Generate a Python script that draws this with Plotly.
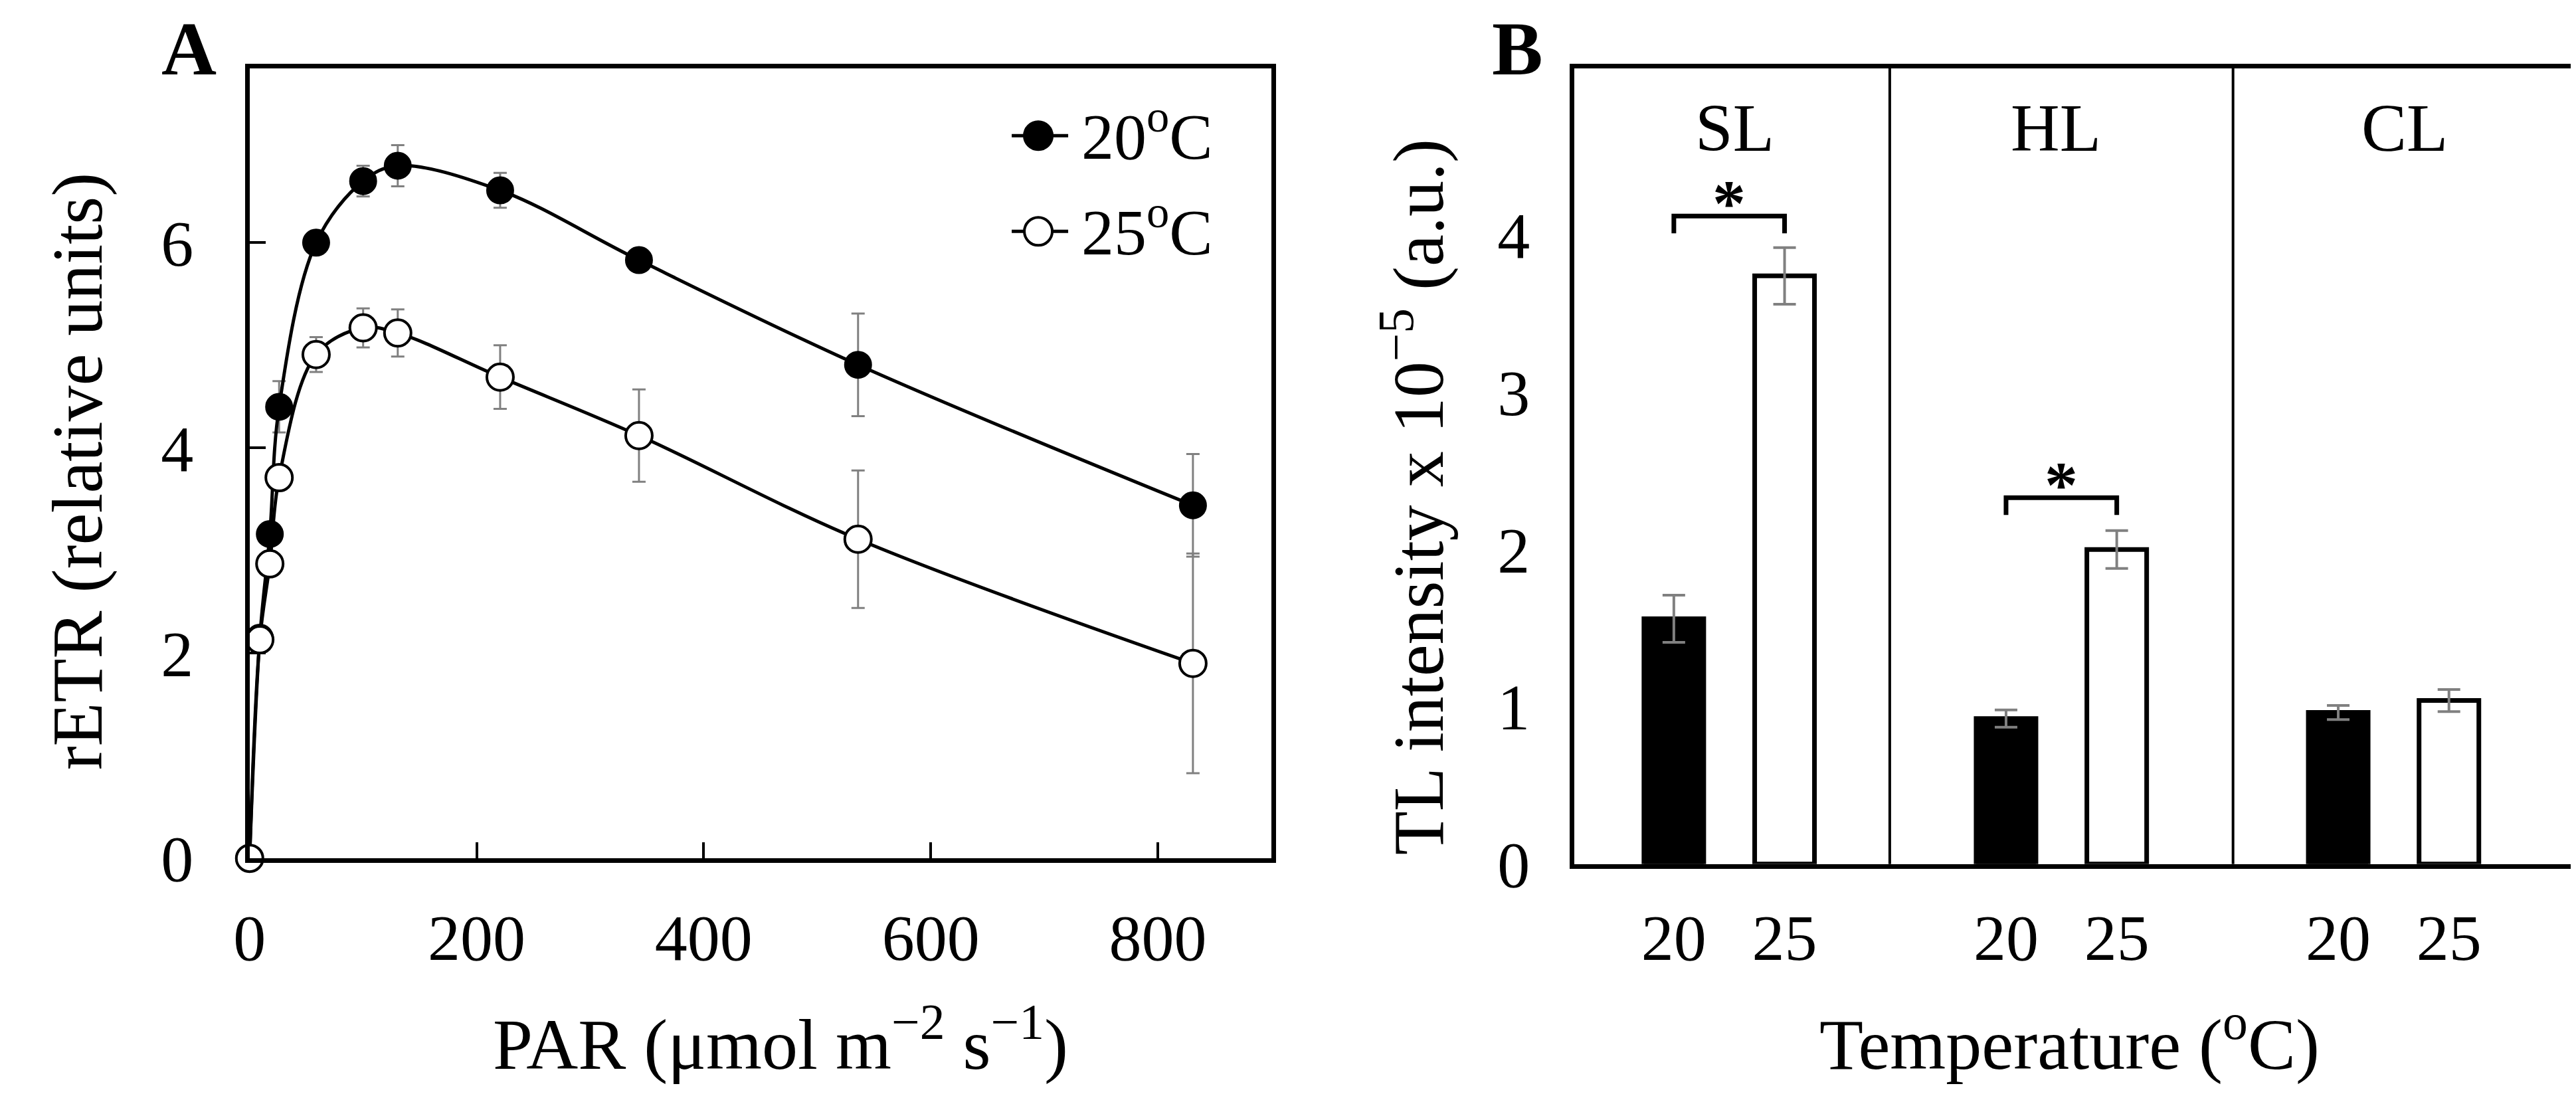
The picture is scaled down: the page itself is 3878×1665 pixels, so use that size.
import plotly.graph_objects as go

# Panel A: rapid light curves (rETR vs PAR)
par = [0, 9, 17.8, 26, 58.6, 100, 130.5, 220.7, 343, 536, 831]
etr_20 = [0, 2.15, 3.16, 4.40, 6.00, 6.60, 6.75, 6.51, 5.83, 4.81, 3.44]
etr_20_err = [0, 0.05, 0.1, 0.25, 0.05, 0.15, 0.2, 0.17, 0.06, 0.5, 0.5]
etr_25 = [0, 2.13, 2.87, 3.71, 4.91, 5.17, 5.12, 4.69, 4.12, 3.11, 1.90]
etr_25_err = [0, 0.05, 0.05, 0.1, 0.17, 0.19, 0.23, 0.31, 0.45, 0.67, 1.07]

# Panel B: TL intensity per light condition
groups = ["SL", "HL", "CL"]
temps = ["20", "25"]
tl_20 = [1.56, 0.925, 0.964]
tl_20_err = [0.15, 0.055, 0.045]
tl_25 = [3.74, 2.00, 1.04]
tl_25_err = [0.18, 0.12, 0.07]
sig_groups = ["SL", "HL"]
sig_level = [4.12, 2.33]

FONT = "Liberation Serif"
W, H = 3878, 1665

# bar positions: two bars per group, one empty slot between groups
x20 = [3 * i + 1 for i in range(len(groups))]
x25 = [3 * i + 2 for i in range(len(groups))]

fig = go.Figure()

fig.add_trace(go.Scatter(
    x=par, y=etr_20, mode="lines+markers", xaxis="x", yaxis="y",
    line=dict(color="black", width=5, shape="spline", smoothing=1),
    marker=dict(color="black", size=40, line=dict(color="black", width=2)),
    error_y=dict(type="data", array=etr_20_err, color="#808080", thickness=3, width=10),
    cliponaxis=False, showlegend=False,
))
fig.add_trace(go.Scatter(
    x=par, y=etr_25, mode="lines+markers", xaxis="x", yaxis="y",
    line=dict(color="black", width=5, shape="spline", smoothing=1),
    marker=dict(color="white", size=40, line=dict(color="black", width=4)),
    error_y=dict(type="data", array=etr_25_err, color="#808080", thickness=3, width=10),
    cliponaxis=False, showlegend=False,
))

fig.add_trace(go.Bar(
    x=x20, y=tl_20, width=0.54, xaxis="x2", yaxis="y2",
    marker=dict(color="black", line=dict(color="black", width=7)),
    error_y=dict(type="data", array=tl_20_err, color="#808080", thickness=4, width=17),
    showlegend=False,
))
fig.add_trace(go.Bar(
    x=x25, y=tl_25, width=0.54, xaxis="x2", yaxis="y2",
    marker=dict(color="white", line=dict(color="black", width=7)),
    error_y=dict(type="data", array=tl_25_err, color="#808080", thickness=4, width=17),
    showlegend=False,
))

# significance brackets
annotations = []
for g, lvl in zip(sig_groups, sig_level):
    i = groups.index(g)
    fig.add_trace(go.Scatter(
        x=[x20[i], x20[i], x25[i], x25[i]], y=[lvl - 0.11, lvl, lvl, lvl - 0.11],
        mode="lines", line=dict(color="black", width=7), xaxis="x2", yaxis="y2",
        showlegend=False, hoverinfo="skip",
    ))
    annotations.append(dict(
        x=(x20[i] + x25[i]) / 2, y=lvl, xref="x2", yref="y2", text="<b>*</b>",
        showarrow=False, yanchor="bottom", yshift=-38,
        font=dict(family=FONT, size=100, color="black"),
    ))

# group labels
for g, gx in zip(groups, [1.55, 4.45, 7.6]):
    annotations.append(dict(
        x=gx, y=4.68, xref="x2", yref="y2", text=g, showarrow=False,
        yanchor="middle", font=dict(family=FONT, size=102, color="black"),
    ))

# axis titles and panel letters
annotations += [
    dict(x=0.2965, y=0.033, xref="paper", yref="paper", text="PAR (μmol m<sup>−2</sup> s<sup>−1</sup>)",
         showarrow=False, xanchor="center", yanchor="middle", font=dict(family=FONT, size=108, color="black")),
    dict(x=0.8001, y=0.033, xref="paper", yref="paper", text="Temperature (<sup>o</sup>C)",
         showarrow=False, xanchor="center", yanchor="middle", font=dict(family=FONT, size=108, color="black")),
    dict(x=0.0219, y=0.5646, xref="paper", yref="paper", text="rETR (relative units)", textangle=-90,
         showarrow=False, xanchor="center", yanchor="middle", font=dict(family=FONT, size=108, color="black")),
    dict(x=0.5436, y=0.5405, xref="paper", yref="paper", text="TL intensity x 10<sup>−5</sup> (a.u.)",
         textangle=-90, showarrow=False, xanchor="center", yanchor="middle",
         font=dict(family=FONT, size=108, color="black")),
    dict(x=0.0652, y=1, xref="paper", yref="paper", text="<b>A</b>", showarrow=False,
         xanchor="center", yanchor="top", font=dict(family=FONT, size=115, color="black")),
    dict(x=0.5843, y=1, xref="paper", yref="paper", text="<b>B</b>", showarrow=False,
         xanchor="center", yanchor="top", font=dict(family=FONT, size=115, color="black")),
]

# legend drawn by hand so the keys can be as big as the plotted markers
shapes = []
leg_x = 1540 / W
for name, row_y, fill in [("20", 1 - 203 / H, "black"), ("25", 1 - 352 / H, "white")]:
    shapes.append(dict(type="line", xref="paper", yref="paper", xsizemode="pixel", ysizemode="pixel",
                       xanchor=leg_x, yanchor=row_y, x0=-40, x1=45, y0=0, y1=0,
                       line=dict(color="black", width=5)))
    shapes.append(dict(type="circle", xref="paper", yref="paper", xsizemode="pixel", ysizemode="pixel",
                       xanchor=leg_x, yanchor=row_y, x0=-21, x1=21, y0=-21, y1=21,
                       fillcolor=fill, line=dict(color="black", width=4)))
    annotations.append(dict(x=1603 / W, y=row_y, xref="paper", yref="paper", text=name + "<sup>o</sup>C",
                            showarrow=False, xanchor="left", yanchor="middle", yshift=6,
                            font=dict(family=FONT, size=98, color="black")))

# vertical separators between light conditions
for sx in [2.95, 6.05]:
    shapes.append(dict(type="line", xref="x2", yref="y2 domain", x0=sx, x1=sx, y0=0, y1=1,
                       line=dict(color="black", width=4)))

axis_common = dict(showline=True, linecolor="black", linewidth=7, mirror=True, showgrid=False,
                   zeroline=False, tickfont=dict(family=FONT, size=98, color="black"))

fig.update_layout(
    width=W, height=H,
    margin=dict(l=0, r=0, t=0, b=0),
    paper_bgcolor="white", plot_bgcolor="white",
    barmode="overlay",
    xaxis=dict(domain=[345 / W, 1893 / W], anchor="y", range=[0, 900], tickvals=[0, 200, 400, 600, 800],
               ticks="inside", ticklen=24, tickwidth=4, tickcolor="black", ticklabelstandoff=28,
               **axis_common),
    yaxis=dict(domain=[1 - 1328 / H, 1 - 98 / H], anchor="x", range=[0, 7.7], tickvals=[0, 2, 4, 6],
               ticks="inside", ticklen=24, tickwidth=4, tickcolor="black", ticklabelstandoff=58,
               **axis_common),
    xaxis2=dict(domain=[2352 / W, 3862 / W], anchor="y2", range=[0.1, 9.1], tickvals=x20 + x25,
                ticktext=[temps[0]] * 3 + [temps[1]] * 3, ticks="", ticklabelstandoff=20, **axis_common),
    yaxis2=dict(domain=[1 - 1337 / H, 1 - 98 / H], anchor="x2", range=[0, 5.06], tickvals=[0, 1, 2, 3, 4],
                ticks="", ticklabelstandoff=40, **axis_common),
    annotations=annotations,
    shapes=shapes,
)

fig.write_html("out.html")
